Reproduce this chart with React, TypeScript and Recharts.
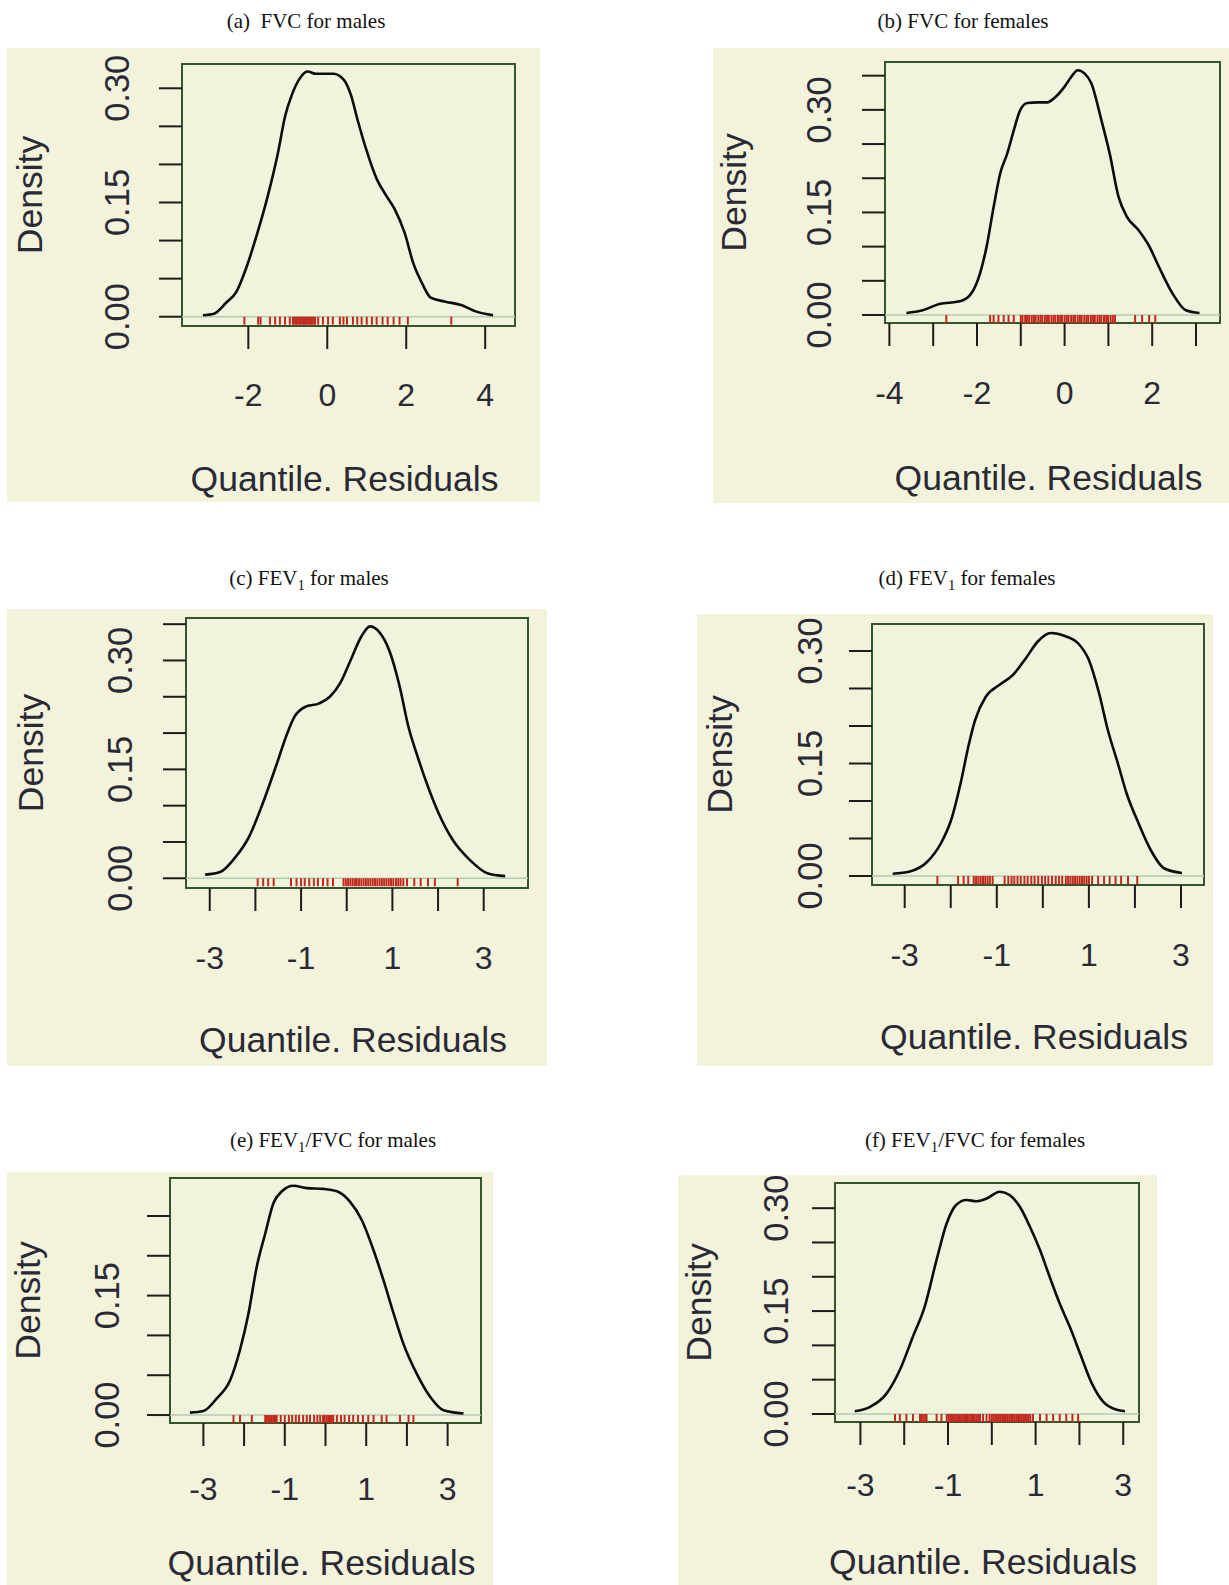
import React from "react";
import {
  ComposedChart,
  Line,
  Scatter,
  XAxis,
  YAxis,
  ReferenceArea,
  ReferenceLine,
} from "recharts";

// density curves of the quantile residuals
const fvcMaleX = [-3.15, -2.87, -2.57, -2.3, -2.04, -1.77, -1.51, -1.25, -1.07, -0.9, -0.72, -0.5, -0.28, 0.16, 0.42, 0.6, 0.77, 0.99, 1.26, 1.48, 1.7, 1.96, 2.18, 2.4, 2.62, 2.97, 3.41, 3.76, 4.2];
const fvcMaleY = [0.002, 0.004, 0.018, 0.033, 0.066, 0.11, 0.158, 0.215, 0.263, 0.291, 0.311, 0.322, 0.319, 0.319, 0.311, 0.291, 0.258, 0.219, 0.18, 0.16, 0.142, 0.11, 0.07, 0.044, 0.025, 0.02, 0.015, 0.007, 0.002];
const fvcMaleRug = [-2.1, -1.75, -1.69, -1.45, -1.32, -1.2, -1.07, -0.95, -0.87, -0.83, -0.79, -0.75, -0.71, -0.67, -0.63, -0.59, -0.55, -0.51, -0.47, -0.43, -0.39, -0.35, -0.31, -0.23, -0.11, 0.02, 0.14, 0.32, 0.41, 0.5, 0.65, 0.76, 0.87, 1.0, 1.13, 1.25, 1.4, 1.53, 1.68, 1.83, 2.04, 3.14];

const fvcFemaleX = [-3.61, -3.24, -2.86, -2.39, -2.16, -1.93, -1.78, -1.62, -1.47, -1.31, -1.16, -1.01, -0.85, -0.62, -0.39, -0.24, 0.0, 0.15, 0.3, 0.46, 0.61, 0.84, 1.03, 1.23, 1.42, 1.69, 1.92, 2.15, 2.46, 2.77, 3.08];
const fvcFemaleY = [0.003, 0.007, 0.016, 0.02, 0.029, 0.061, 0.1, 0.158, 0.207, 0.236, 0.27, 0.3, 0.31, 0.311, 0.311, 0.317, 0.334, 0.348, 0.358, 0.353, 0.339, 0.285, 0.236, 0.173, 0.144, 0.124, 0.102, 0.071, 0.032, 0.007, 0.003];
const fvcFemaleRug = [-2.7, -1.7, -1.62, -1.51, -1.39, -1.28, -1.16, -1.0, -0.96, -0.9, -0.86, -0.81, -0.75, -0.7, -0.66, -0.6, -0.55, -0.51, -0.45, -0.4, -0.36, -0.3, -0.25, -0.21, -0.15, -0.1, -0.06, 0.0, 0.05, 0.09, 0.15, 0.2, 0.24, 0.3, 0.35, 0.39, 0.45, 0.5, 0.54, 0.6, 0.65, 0.69, 0.75, 0.8, 0.84, 0.9, 0.95, 0.99, 1.05, 1.1, 1.15, 1.61, 1.77, 1.93, 2.07];

const fev1MaleX = [-3.1, -2.76, -2.45, -2.14, -1.84, -1.53, -1.33, -1.14, -0.91, -0.6, -0.37, -0.14, 0.09, 0.32, 0.51, 0.7, 0.93, 1.16, 1.35, 1.55, 1.78, 2.01, 2.32, 2.7, 3.08, 3.47];
const fev1MaleY = [0.005, 0.009, 0.028, 0.057, 0.103, 0.158, 0.195, 0.223, 0.236, 0.241, 0.25, 0.269, 0.301, 0.333, 0.347, 0.34, 0.314, 0.264, 0.209, 0.168, 0.126, 0.09, 0.053, 0.025, 0.007, 0.003];
const fev1MaleRug = [-1.95, -1.83, -1.72, -1.6, -1.22, -1.1, -1.0, -0.92, -0.82, -0.72, -0.63, -0.52, -0.42, -0.3, -0.07, -0.02, 0.03, 0.08, 0.13, 0.18, 0.22, 0.27, 0.32, 0.37, 0.42, 0.47, 0.52, 0.57, 0.62, 0.67, 0.72, 0.77, 0.82, 0.87, 0.92, 0.97, 1.02, 1.08, 1.13, 1.18, 1.24, 1.32, 1.48, 1.62, 1.78, 1.93, 2.43];

const fev1FemaleX = [-3.26, -2.89, -2.51, -2.21, -1.99, -1.77, -1.62, -1.47, -1.24, -0.94, -0.65, -0.35, -0.12, 0.18, 0.48, 0.77, 1.0, 1.22, 1.41, 1.63, 1.82, 2.08, 2.34, 2.64, 3.02];
const fev1FemaleY = [0.003, 0.006, 0.019, 0.044, 0.075, 0.128, 0.172, 0.208, 0.239, 0.255, 0.268, 0.292, 0.312, 0.324, 0.32, 0.31, 0.288, 0.244, 0.195, 0.15, 0.11, 0.07, 0.035, 0.01, 0.004];
const fev1FemaleRug = [-2.29, -1.84, -1.72, -1.62, -1.5, -1.45, -1.4, -1.35, -1.3, -1.25, -1.2, -1.15, -1.09, -0.83, -0.75, -0.68, -0.62, -0.55, -0.48, -0.4, -0.33, -0.25, -0.18, -0.1, -0.02, 0.05, 0.12, 0.2, 0.28, 0.35, 0.42, 0.5, 0.55, 0.6, 0.65, 0.7, 0.75, 0.8, 0.85, 0.9, 0.95, 1.0, 1.07, 1.2, 1.33, 1.45, 1.58, 1.7, 1.85, 2.05];

const ratioMaleX = [-3.33, -3.0, -2.67, -2.34, -2.1, -1.89, -1.69, -1.48, -1.28, -1.07, -0.79, -0.46, -0.05, 0.28, 0.6, 0.89, 1.18, 1.42, 1.67, 1.91, 2.24, 2.57, 2.9, 3.39];
const ratioMaleY = [0.003, 0.005, 0.021, 0.044, 0.082, 0.128, 0.186, 0.228, 0.266, 0.281, 0.288, 0.285, 0.284, 0.281, 0.268, 0.245, 0.207, 0.17, 0.128, 0.09, 0.052, 0.023, 0.006, 0.002];
const ratioMaleRug = [-2.26, -2.1, -1.81, -1.48, -1.44, -1.4, -1.36, -1.32, -1.28, -1.24, -1.2, -1.1, -1.0, -0.9, -0.82, -0.73, -0.65, -0.55, -0.46, -0.38, -0.28, -0.2, -0.13, -0.06, -0.02, 0.03, 0.07, 0.11, 0.15, 0.19, 0.28, 0.38, 0.47, 0.58, 0.68, 0.8, 0.92, 1.05, 1.18, 1.38, 1.5, 1.83, 2.04, 2.16];

const ratioFemaleX = [-3.13, -2.79, -2.4, -2.1, -1.8, -1.53, -1.26, -1.03, -0.81, -0.58, -0.35, -0.12, 0.18, 0.41, 0.64, 0.87, 1.1, 1.32, 1.55, 1.78, 2.01, 2.28, 2.54, 2.85, 3.04];
const ratioFemaleY = [0.004, 0.01, 0.03, 0.064, 0.113, 0.157, 0.225, 0.278, 0.305, 0.312, 0.31, 0.314, 0.324, 0.319, 0.302, 0.273, 0.239, 0.2, 0.161, 0.127, 0.089, 0.045, 0.018, 0.006, 0.004];
const ratioFemaleRug = [-2.21, -2.1, -1.95, -1.8, -1.64, -1.6, -1.56, -1.52, -1.49, -1.26, -1.15, -1.03, -0.99, -0.95, -0.91, -0.87, -0.83, -0.79, -0.75, -0.71, -0.67, -0.63, -0.59, -0.55, -0.51, -0.47, -0.43, -0.39, -0.35, -0.31, -0.27, -0.2, -0.12, -0.05, 0.0, 0.04, 0.08, 0.12, 0.16, 0.2, 0.24, 0.28, 0.32, 0.36, 0.4, 0.44, 0.48, 0.52, 0.56, 0.6, 0.64, 0.68, 0.72, 0.76, 0.8, 0.84, 0.88, 0.94, 1.1, 1.25, 1.4, 1.55, 1.7, 1.84, 1.97];

// axis ticks and which of them carry a label
const xTicksEven = [-2, 0, 2, 4];
const xTicksB = [-4, -3, -2, -1, 0, 1, 2, 3];
const xLabelsB = [-4, -2, 0, 2];
const xTicksOdd = [-3, -2, -1, 0, 1, 2, 3];
const xLabelsOdd = [-3, -1, 1, 3];
const yTicks30 = [0, 0.05, 0.1, 0.15, 0.2, 0.25, 0.3];
const yTicks35 = [0, 0.05, 0.1, 0.15, 0.2, 0.25, 0.3, 0.35];
const yTicks25 = [0, 0.05, 0.1, 0.15, 0.2, 0.25];
const yLabels = [0, 0.15, 0.3];

const BG = "#f3f3db";
const PLOT_BG = "#f0f4dd";
const BOX = "#37552a";
const ZERO = "#b7cbb0";
const INK = "#1c1c1c";
const TEXT = "#2a2a36";
const RUG = "#c4281f";
const SANS = "'Liberation Sans', Arial, sans-serif";

const panels = [
  {
    key: "a",
    title: <>(a)&nbsp; FVC for males</>,
    titlePos: [306, 21],
    xs: fvcMaleX, ys: fvcMaleY, rug: fvcMaleRug,
    bg: [7, 48, 540, 502], box: [182, 64, 515, 326],
    xDomain: [-3.68, 4.755], yDomain: [-0.0122, 0.3319],
    xTicks: xTicksEven, xLabels: xTicksEven, yTicks: yTicks30,
    yLabOff: -64.5, densX: 23, xLabOff: 69, qOff: 153,
  },
  {
    key: "b",
    title: <>(b) FVC for females</>,
    titlePos: [963, 21],
    xs: fvcFemaleX, ys: fvcFemaleY, rug: fvcFemaleRug,
    bg: [713, 48, 1229, 503], box: [885, 62, 1220, 323],
    xDomain: [-4.1, 3.548], yDomain: [-0.0117, 0.37],
    xTicks: xTicksB, xLabels: xLabelsB, yTicks: yTicks35,
    yLabOff: -66, densX: 20.5, xLabOff: 69.5, qOff: 155,
  },
  {
    key: "c",
    title: <>(c) FEV<sub style={{ fontSize: "0.7em" }}>1</sub> for males</>,
    titlePos: [309, 580],
    xs: fev1MaleX, ys: fev1MaleY, rug: fev1MaleRug,
    bg: [7, 609, 547, 1066], box: [186, 618, 528, 888],
    xDomain: [-3.52, 3.97], yDomain: [-0.0134, 0.3585],
    xTicks: xTicksOdd, xLabels: xLabelsOdd, yTicks: yTicks35,
    yLabOff: -66, densX: 23.7, xLabOff: 70, qOff: 152,
  },
  {
    key: "d",
    title: <>(d) FEV<sub style={{ fontSize: "0.7em" }}>1</sub> for females</>,
    titlePos: [967, 580],
    xs: fev1FemaleX, ys: fev1FemaleY, rug: fev1FemaleRug,
    bg: [697, 614, 1213, 1066], box: [872, 624, 1204, 885],
    xDomain: [-3.71, 3.5], yDomain: [-0.012, 0.336],
    xTicks: xTicksOdd, xLabels: xLabelsOdd, yTicks: yTicks30,
    yLabOff: -62.5, densX: 23, xLabOff: 70, qOff: 152,
  },
  {
    key: "e",
    title: <>(e) FEV<sub style={{ fontSize: "0.7em" }}>1</sub>/FVC for males</>,
    titlePos: [333, 1142],
    xs: ratioMaleX, ys: ratioMaleY, rug: ratioMaleRug,
    bg: [7, 1172, 493, 1585], box: [170, 1178, 481, 1423],
    xDomain: [-3.82, 3.82], yDomain: [-0.01, 0.2977],
    xTicks: xTicksOdd, xLabels: xLabelsOdd, yTicks: yTicks25,
    yLabOff: -62.5, densX: 20.5, xLabOff: 66, qOff: 140,
  },
  {
    key: "f",
    title: <>(f) FEV<sub style={{ fontSize: "0.7em" }}>1</sub>/FVC for females</>,
    titlePos: [975, 1142],
    xs: ratioFemaleX, ys: ratioFemaleY, rug: ratioFemaleRug,
    bg: [678, 1175, 1157, 1585], box: [835, 1183, 1139, 1422],
    xDomain: [-3.58, 3.36], yDomain: [-0.0117, 0.3367],
    xTicks: xTicksOdd, xLabels: xLabelsOdd, yTicks: yTicks30,
    yLabOff: -59, densX: 20.5, xLabOff: 63, qOff: 140,
  },
];

const TICK = 23;

const RugTick = (props: any) => {
  const { cx, cy } = props;
  if (cx == null || cy == null) return <g />;
  return <line x1={cx} x2={cx} y1={cy} y2={cy + 8} stroke={RUG} strokeWidth={2} />;
};

function DensityPanel({ p }: { p: any }) {
  const w = p.bg[2] - p.bg[0];
  const h = p.bg[3] - p.bg[1];
  const curve = p.xs.map((x: number, i: number) => ({ x, y: p.ys[i] }));
  const rug = p.rug.map((x: number) => ({ x, y: 0 }));

  const xTick = (props: any) => {
    const { x, y, payload } = props;
    if (!p.xLabels.includes(payload.value)) return <g />;
    return (
      <text x={x} y={y - TICK + p.xLabOff} textAnchor="middle" dominantBaseline="central"
        fontFamily={SANS} fontSize={32} fill={TEXT}>
        {payload.value}
      </text>
    );
  };
  const yTick = (props: any) => {
    const { x, y, payload } = props;
    if (!yLabels.includes(payload.value)) return <g />;
    const lx = x + TICK + p.yLabOff;
    return (
      <text x={lx} y={y} transform={`rotate(-90, ${lx}, ${y})`} textAnchor="middle"
        dominantBaseline="central" fontFamily={SANS} fontSize={34.5} fill={TEXT}>
        {payload.value.toFixed(2)}
      </text>
    );
  };
  const xTitle = (props: any) => {
    const vb = props.viewBox;
    const cx = vb.x + vb.width / 2 - 4;
    return (
      <text x={cx} y={vb.y + p.qOff} textAnchor="middle" dominantBaseline="central"
        fontFamily={SANS} fontSize={35.5} fill={TEXT}>
        Quantile. Residuals
      </text>
    );
  };
  const yTitle = (props: any) => {
    const vb = props.viewBox;
    const cy = vb.y + vb.height / 2;
    const cx = p.densX;
    return (
      <text x={cx} y={cy} transform={`rotate(-90, ${cx}, ${cy})`} textAnchor="middle"
        dominantBaseline="central" fontFamily={SANS} fontSize={35.5} fill={TEXT}>
        Density
      </text>
    );
  };

  return (
    <div style={{ position: "absolute", left: p.bg[0], top: p.bg[1], width: w, height: h, background: BG, overflow: "hidden" }}>
      <ComposedChart
        width={w}
        height={h}
        margin={{ top: p.box[1] - p.bg[1], right: p.bg[2] - p.box[2], bottom: 0, left: 0 }}
      >
        <XAxis
          type="number"
          dataKey="x"
          domain={p.xDomain}
          ticks={p.xTicks}
          interval={0}
          allowDataOverflow
          axisLine={false}
          tickSize={TICK}
          tickMargin={0}
          tickLine={{ stroke: INK, strokeWidth: 2 }}
          height={p.bg[3] - p.box[3]}
          tick={xTick}
          label={xTitle}
        />
        <YAxis
          type="number"
          dataKey="y"
          domain={p.yDomain}
          ticks={p.yTicks}
          interval={0}
          allowDataOverflow
          axisLine={false}
          tickSize={TICK}
          tickMargin={0}
          tickLine={{ stroke: INK, strokeWidth: 2 }}
          width={p.box[0] - p.bg[0]}
          tick={yTick}
          label={yTitle}
        />
        <ReferenceArea
          x1={p.xDomain[0]}
          x2={p.xDomain[1]}
          y1={p.yDomain[0]}
          y2={p.yDomain[1]}
          fill={PLOT_BG}
          fillOpacity={1}
          stroke={BOX}
          strokeWidth={2}
          ifOverflow="visible"
        />
        <ReferenceLine y={0} stroke={ZERO} strokeWidth={1.5} />
        <Scatter data={rug} dataKey="y" shape={RugTick} isAnimationActive={false} />
        <Line
          data={curve}
          dataKey="y"
          type="monotone"
          stroke="#0d0d0d"
          strokeWidth={2.6}
          dot={false}
          activeDot={false}
          isAnimationActive={false}
        />
      </ComposedChart>
    </div>
  );
}

export default function App() {
  return (
    <div style={{ position: "absolute", left: 0, top: 0, width: 1229, height: 1585, background: "#ffffff", overflow: "hidden" }}>
      {panels.map((p) => (
        <React.Fragment key={p.key}>
          <div
            style={{
              position: "absolute",
              left: p.titlePos[0],
              top: p.titlePos[1],
              transform: "translate(-50%, -50%)",
              whiteSpace: "nowrap",
              fontFamily: "'Liberation Serif', 'Times New Roman', serif",
              fontSize: 21,
              lineHeight: 1,
              color: "#111",
            }}
          >
            {p.title}
          </div>
          <DensityPanel p={p} />
        </React.Fragment>
      ))}
    </div>
  );
}
